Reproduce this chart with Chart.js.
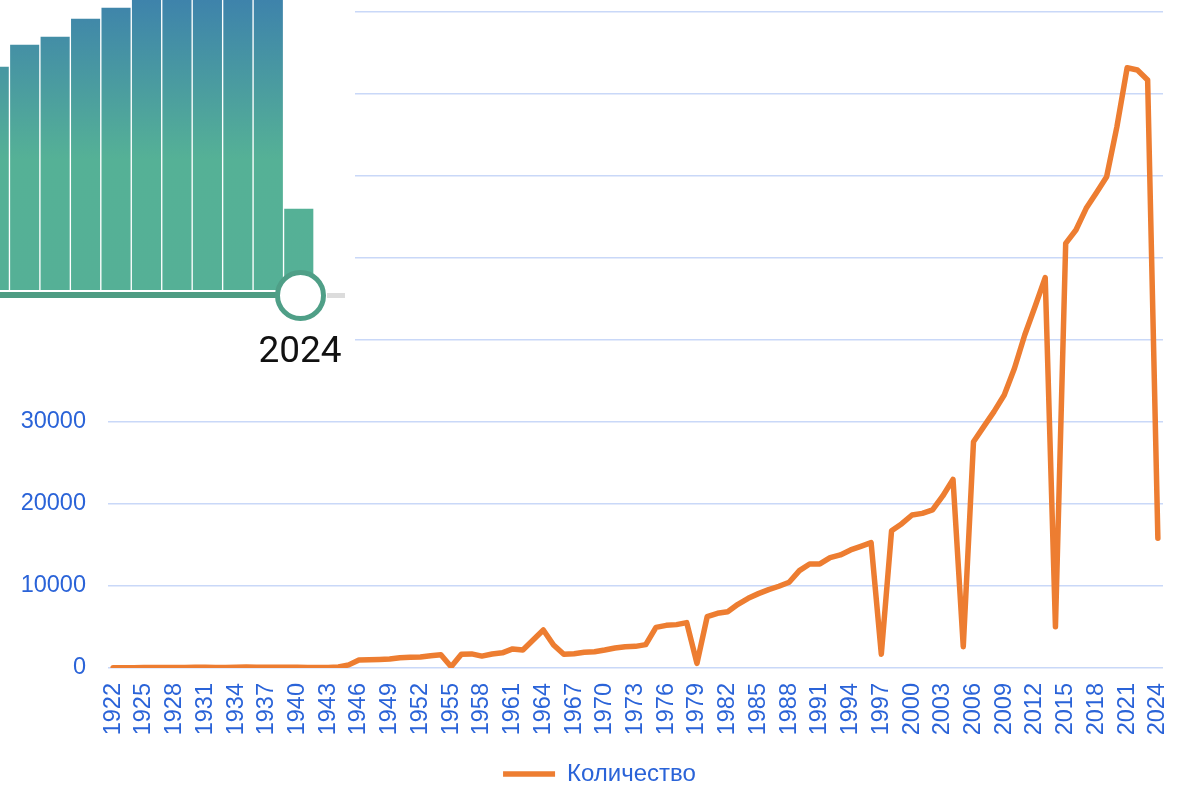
<!DOCTYPE html>
<html>
<head>
<meta charset="utf-8">
<script src="https://cdn.jsdelivr.net/npm/chart.js@4.4.1/dist/chart.umd.min.js"></script>
<style>
  html, body { margin: 0; padding: 0; background: #fff; overflow: hidden; }
  #wrap { position: relative; width: 1187px; height: 786px; }
  #main { position: absolute; left: 0; top: 0; }
  #overlay { position: absolute; left: 0; top: 0; width: 355px; height: 378px; background: #fff; overflow: hidden; }
  #histWrap { position: absolute; left: -21px; top: 0; width: 335px; height: 290px; }
  #trackOn { position: absolute; left: 0; top: 291.5px; width: 278px; height: 6px; background: #4e9c83; }
  #trackOff { position: absolute; left: 327px; top: 293px; width: 18px; height: 4.5px; background: #dcdcdc; }
  #knob { position: absolute; left: 274.5px; top: 269.5px; width: 41px; height: 41px; border: 5px solid #4f9f87; border-radius: 50%; background: #fff; }
  #yearLabel { position: absolute; left: 240px; top: 328px; width: 120px; text-align: center; font: 37px Roboto, "Liberation Sans", Arial, sans-serif; color: #111; line-height: 44px; }
</style>
</head>
<body>
<div id="wrap">
  <canvas id="main" width="1187" height="786"></canvas>
  <div id="overlay">
    <div id="histWrap"><canvas id="hist" width="335" height="290"></canvas></div>
    <div id="trackOn"></div>
    <div id="trackOff"></div>
    <div id="knob"></div>
    <div id="yearLabel">2024</div>
  </div>
</div>
<script>
// ---- data ----
const years = [
  '1922','1923','1924','1925','1926','1927','1928','1929','1930','1931',
  '1932','1933','1934','1935','1936','1937','1938','1939','1940','1941',
  '1942','1943','1944','1945','1946','1947','1948','1949','1950','1951',
  '1952','1953','1954','1955','1956','1957','1958','1959','1960','1961',
  '1962','1963','1964','1965','1966','1967','1968','1969','1970','1971',
  '1972','1973','1974','1975','1976','1977','1978','1979','1980','1981',
  '1982','1983','1984','1985','1986','1987','1988','1989','1990','1991',
  '1992','1993','1994','1995','1996','1997','1998','1999','2000','2001',
  '2002','2003','2004','2005','2006','2007','2008','2009','2010','2011',
  '2012','2013','2014','2015','2016','2017','2018','2019','2020','2021',
  '2022','2023','2024'
];
const counts = [
  30, 40, 40, 60, 60, 70, 70, 70, 80, 80,
  70, 60, 100, 110, 100, 100, 90, 90, 80, 60,
  50, 70, 120, 380, 980, 1000, 1040, 1090, 1250, 1300,
  1330, 1500, 1620, 160, 1680, 1720, 1450, 1700, 1850, 2330,
  2200, 3420, 4640, 2810, 1670, 1750, 1910, 1990, 2200, 2440,
  2600, 2640, 2850, 4960, 5200, 5290, 5530, 570, 6260, 6670,
  6870, 7770, 8500, 9070, 9560, 9970, 10460, 11870, 12690, 12690,
  13460, 13790, 14400, 14840, 15290, 1690, 16750, 17600, 18660, 18860,
  19270, 20980, 23010, 2600, 27600, 29430, 31260, 33290, 36550, 40610,
  44060, 47600, 5040, 51790, 53410, 56060, 57970, 59920, 66000, 73200,
  72930, 71710, 15820
];
const seriesName = 'Количество';
const yMin = 0, yMax = 80000, yStep = 10000;
const xLabelEvery = 3;

// histogram widget (range slider) data
const histYears = ['2014','2015','2016','2017','2018','2019','2020','2021','2022','2023','2024'];
const histCounts = [43260, 47500, 49050, 52520, 54650, 60000, 66000, 73200, 72930, 71710, 15830];
const histMax = 56000;

// ---- styles ----
const FONT = '"Liberation Sans", Arial, sans-serif';
const BLUE = '#2a63d8';
const ORANGE = '#ed7d31';
const GRID = '#c9d8f8';

const legendShift = {
  id: 'legendShift',
  afterLayout(chart) {
    if (chart.legend) { chart.legend.left += 18; chart.legend.right += 18; }
  }
};

new Chart(document.getElementById('main'), {
  type: 'line',
  data: {
    labels: years,
    datasets: [{
      label: seriesName,
      data: counts,
      borderColor: ORANGE,
      backgroundColor: ORANGE,
      borderWidth: 5.5,
      pointRadius: 0,
      pointHoverRadius: 0,
      tension: 0,
      borderCapStyle: 'round',
      borderJoinStyle: 'round'
    }]
  },
  plugins: [legendShift],
  options: {
    responsive: false,
    animation: false,
    layout: { padding: { left: 0, right: 24, top: 0, bottom: -10 } },
    plugins: {
      tooltip: { enabled: false },
      legend: {
        position: 'bottom',
        labels: {
          usePointStyle: true,
          pointStyle: 'line',
          pointStyleWidth: 52,
          color: BLUE,
          font: { family: FONT, size: 24 },
          padding: 0
        }
      }
    },
    scales: {
      x: {
        offset: true,
        afterFit: function (s) { s.height = 94; s.paddingLeft = 0; s.paddingRight = 0; },
        grid: { display: false, drawTicks: false },
        border: { display: false },
        ticks: {
          autoSkip: false,
          minRotation: 90,
          maxRotation: 90,
          padding: 15,
          color: BLUE,
          font: { family: FONT, size: 23.5 },
          callback: function (v, i) { return i % xLabelEvery === 0 ? this.getLabelForValue(v) : ''; }
        }
      },
      y: {
        min: yMin,
        max: yMax,
        afterFit: function (s) { s.width = 108; s.paddingTop = 12; s.paddingBottom = 0; },
        grid: { color: GRID, lineWidth: 1.5, drawTicks: false },
        border: { display: false },
        ticks: {
          stepSize: yStep,
          padding: 22,
          color: BLUE,
          font: { family: FONT, size: 23.5 },
          callback: function (v) { return String(v); }
        }
      }
    }
  }
});

new Chart(document.getElementById('hist'), {
  type: 'bar',
  data: {
    labels: histYears,
    datasets: [{
      data: histCounts,
      barPercentage: 1,
      categoryPercentage: 1,
      borderWidth: 1,
      borderColor: 'rgba(255,255,255,0.75)',
      backgroundColor: function (ctx) {
        const a = ctx.chart.chartArea;
        if (!a) return '#55b096';
        const g = ctx.chart.ctx.createLinearGradient(0, a.top, 0, a.bottom);
        g.addColorStop(0, '#3e83ab');
        g.addColorStop(0.55, '#55b196');
        g.addColorStop(1, '#55b096');
        return g;
      }
    }]
  },
  options: {
    responsive: false,
    animation: false,
    layout: { padding: 0 },
    plugins: { legend: { display: false }, tooltip: { enabled: false } },
    scales: {
      x: { display: false },
      y: { display: false, min: 0, max: histMax }
    }
  }
});
</script>
</body>
</html>
